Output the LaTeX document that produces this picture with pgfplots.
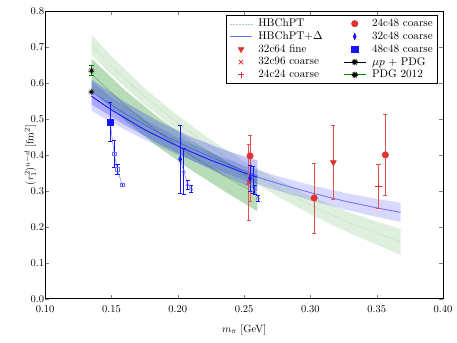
\documentclass[border=0pt]{standalone}
\usepackage{pgfplots}
\pgfplotsset{compat=1.18}
\usetikzlibrary{plotmarks}
\definecolor{myred}{RGB}{222,50,50}
\definecolor{mygreen}{RGB}{0,128,0}
\definecolor{myblue}{RGB}{20,20,255}
\definecolor{lblue}{RGB}{110,110,255}
\begin{document}
\begin{tikzpicture}
\begin{axis}[
 scale only axis, width=379pt, height=274pt,
 xmin=0.10, xmax=0.40, ymin=0, ymax=0.8,
 xtick={0.10,0.15,0.20,0.25,0.30,0.35,0.40},
 ytick={0,0.1,0.2,0.3,0.4,0.5,0.6,0.7,0.8},
 xticklabel style={yshift=-3.5pt, /pgf/number format/.cd, fixed, fixed zerofill, precision=2},
 yticklabel style={xshift=2.5pt, /pgf/number format/.cd, fixed, fixed zerofill, precision=1},
 xlabel={$m_\pi$ [GeV]}, ylabel={$(r_1^2)^{u-d}$ [fm$^2$]},
 xlabel style={yshift=-4pt}, ylabel shift=-12pt,
 tick align=inside, major tick length=3.8pt,
 legend columns=2, legend cell align=left,
 legend style={at={(1,1)}, anchor=north east, xshift=-5pt, yshift=-3.8pt, draw=black, fill=white, row sep=0pt,
   font=\fontsize{10.6}{12.5}\selectfont, nodes={inner sep=1.6pt},
   /tikz/every even column/.append style={column sep=18pt},
   /tikz/every odd column/.append style={column sep=4pt}},
 legend image code/.code={\draw[mark repeat=2,mark phase=2,#1] plot coordinates {(0cm,0cm) (0.37cm,0cm) (0.74cm,0cm)};},
 error bars/error mark options={rotate=90, mark size=2pt, line width=0.7pt},
]
% long green band (HBChPT)
\addplot[forget plot, draw=none, fill=mygreen, fill opacity=0.13] coordinates {
(0.135,0.734) (0.15,0.674) (0.175,0.585) (0.2,0.509) (0.225,0.441) (0.25,0.383) (0.275,0.331) (0.3,0.285) (0.325,0.246) (0.35,0.214) (0.368,0.194)
(0.368,0.122) (0.35,0.150) (0.325,0.190) (0.3,0.235) (0.275,0.285) (0.25,0.341) (0.225,0.401) (0.2,0.467) (0.175,0.539) (0.15,0.622) (0.135,0.678)};
\addplot[forget plot, mygreen, opacity=0.35, densely dotted, thin] coordinates {
(0.135,0.706) (0.15,0.648) (0.175,0.562) (0.2,0.488) (0.225,0.421) (0.25,0.362) (0.275,0.308) (0.3,0.260) (0.325,0.218) (0.35,0.182) (0.368,0.158)};
% long blue band (HBChPT+Delta)
\addplot[forget plot, draw=none, fill=blue, fill opacity=0.15] coordinates {
(0.135,0.603) (0.15,0.560) (0.175,0.498) (0.2,0.448) (0.225,0.406) (0.25,0.370) (0.275,0.341) (0.3,0.316) (0.325,0.295) (0.35,0.2775) (0.368,0.267)
(0.368,0.213) (0.35,0.2275) (0.325,0.249) (0.3,0.274) (0.275,0.301) (0.25,0.330) (0.225,0.364) (0.2,0.400) (0.175,0.442) (0.15,0.490) (0.135,0.523)};
% short green band
\addplot[forget plot, draw=none, fill=mygreen, fill opacity=0.28] coordinates {
(0.135,0.668) (0.16,0.580) (0.185,0.505) (0.21,0.440) (0.235,0.385) (0.26,0.337)
(0.26,0.243) (0.235,0.299) (0.21,0.358) (0.185,0.423) (0.16,0.496) (0.135,0.580)};
\addplot[forget plot, mygreen, opacity=0.5, thin] coordinates {
(0.135,0.625) (0.16,0.538) (0.185,0.464) (0.21,0.399) (0.235,0.342) (0.26,0.290)};
% short blue band
\addplot[forget plot, draw=none, fill=blue, fill opacity=0.22] coordinates {
(0.135,0.610) (0.16,0.547) (0.185,0.494) (0.21,0.450) (0.235,0.414) (0.26,0.384)
(0.26,0.300) (0.235,0.342) (0.21,0.386) (0.185,0.432) (0.16,0.483) (0.135,0.540)};
\addplot[forget plot, blue, opacity=0.5, thin] coordinates {
(0.135,0.575) (0.16,0.515) (0.185,0.463) (0.21,0.418) (0.235,0.378) (0.26,0.342)};
% long blue line
\addplot[forget plot, lblue, line width=0.8pt] coordinates {
(0.135,0.563) (0.15,0.525) (0.175,0.470) (0.2,0.424) (0.225,0.385) (0.25,0.350) (0.275,0.321) (0.3,0.295) (0.325,0.272) (0.35,0.2525) (0.368,0.240)};
\addplot[forget plot, myblue, line width=0.7pt] coordinates {
(0.135,0.563) (0.15,0.525) (0.175,0.470) (0.2,0.424) (0.225,0.385) (0.25,0.350) (0.26,0.338)};
% blue square series
\addplot[forget plot, lblue, thin] coordinates {(0.149,0.492) (0.152,0.403) (0.1545,0.360) (0.158,0.317)};
\addplot[forget plot, lblue, only marks, mark=square, mark size=1.8pt, error bars/.cd, y dir=both, y explicit, error bar style={myblue, line width=0.7pt}] coordinates {
(0.152,0.403) +- (0,0.037) (0.1545,0.360) +- (0,0.014) (0.158,0.317) +- (0,0.004)};
\addplot[forget plot, myblue, only marks, mark=square*, mark size=2.9pt, error bars/.cd, y dir=both, y explicit, error bar style={myblue, line width=0.8pt}] coordinates {
(0.149,0.492) +- (0,0.054)};
% blue diamond series at 0.20
\addplot[forget plot, lblue, thin] coordinates {(0.2018,0.388) (0.2045,0.354) (0.2075,0.317) (0.210,0.305)};
\addplot[forget plot, lblue, only marks, mark=triangle, mark size=2pt, error bars/.cd, y dir=both, y explicit, error bar style={myblue, line width=0.7pt}] coordinates {
(0.2045,0.354) +- (0,0.065) (0.2075,0.317) +- (0,0.012) (0.210,0.305) +- (0,0.009)};
\addplot[forget plot, myblue, only marks, mark=diamond*, mark size=3.2pt, mark options={xscale=0.6}, error bars/.cd, y dir=both, y explicit, error bar style={myblue, line width=0.8pt}] coordinates {
(0.2018,0.388) +- (0,0.095)};
% red points
\addplot[forget plot, myred, only marks, mark=x, mark size=3pt, mark options={line width=0.8pt}, error bars/.cd, y dir=both, y explicit, error bar style={myred!85, line width=0.8pt}] coordinates {
(0.2535,0.323) +- (0,0.105)};
\addplot[forget plot, myred, only marks, mark=*, mark size=3.1pt, error bars/.cd, y dir=both, y explicit, error bar style={myred!85, line width=0.8pt}] coordinates {
(0.2545,0.397) += (0,0.057) -= (0,0.127) (0.3028,0.280) +- (0,0.097) (0.3565,0.400) +- (0,0.113)};
\addplot[forget plot, myred, only marks, mark=triangle*, mark size=3.3pt, mark options={rotate=180}, error bars/.cd, y dir=both, y explicit, error bar style={myred!85, line width=0.8pt}] coordinates {
(0.3173,0.379) +- (0,0.102)};
\addplot[forget plot, myred, only marks, mark=+, mark size=3pt, mark options={line width=0.8pt}, error bars/.cd, y dir=both, y explicit, error bar style={myred!85, line width=0.8pt}] coordinates {
(0.3513,0.312) +- (0,0.061)};
% blue series at 0.255
\addplot[forget plot, lblue, thin] coordinates {(0.2545,0.335) (0.257,0.33) (0.258,0.303) (0.2605,0.280)};
\addplot[forget plot, lblue, only marks, mark=triangle, mark size=2pt, error bars/.cd, y dir=both, y explicit, error bar style={myblue, line width=0.7pt}] coordinates {
(0.257,0.33) +- (0,0.038) (0.258,0.303) +- (0,0.012) (0.2605,0.280) +- (0,0.008)};
\addplot[forget plot, myblue, only marks, mark=diamond*, mark size=3.2pt, mark options={xscale=0.6}, error bars/.cd, y dir=both, y explicit, error bar style={myblue, line width=0.8pt}] coordinates {
(0.2545,0.335) +- (0,0.037)};
% physical points
\addplot[forget plot, mygreen, only marks, mark=10-pointed star, mark size=3pt, mark options={fill=black, draw=black}, error bars/.cd, y dir=both, y explicit, error bar style={mygreen, line width=0.8pt}] coordinates {
(0.1349,0.634) +- (0,0.014)};
\addplot[forget plot, black, only marks, mark=10-pointed star, mark size=3pt, mark options={fill=black}] coordinates {(0.1349,0.575)};
% legend
\addlegendimage{mygreen, opacity=0.35, densely dotted}
\addlegendentry{HBChPT}
\addlegendimage{only marks, mark=*, mark size=3.1pt, myred}
\addlegendentry{24c48 coarse}
\addlegendimage{lblue, line width=0.8pt}
\addlegendentry{HBChPT+$\Delta$}
\addlegendimage{only marks, mark=diamond*, mark size=3.2pt, mark options={xscale=0.6}, myblue}
\addlegendentry{32c48 coarse}
\addlegendimage{only marks, mark=triangle*, mark size=3.3pt, mark options={rotate=180}, myred}
\addlegendentry{32c64 fine}
\addlegendimage{only marks, mark=square*, mark size=2.9pt, myblue}
\addlegendentry{48c48 coarse}
\addlegendimage{only marks, mark=x, mark size=3pt, mark options={line width=0.8pt}, myred}
\addlegendentry{32c96 coarse}
\addlegendimage{black, mark=10-pointed star, mark size=3pt, mark options={fill=black}, line width=0.8pt}
\addlegendentry{$\mu p$ + PDG}
\addlegendimage{only marks, mark=+, mark size=3pt, mark options={line width=0.8pt}, myred}
\addlegendentry{24c24 coarse}
\addlegendimage{mygreen, mark=10-pointed star, mark size=3pt, mark options={fill=black,draw=black}, line width=0.8pt}
\addlegendentry{PDG 2012}
\end{axis}
\pgfresetboundingbox
\path ([shift={(-43pt,-42pt)}]current axis.south west) rectangle ([shift={(13.3pt,10.5pt)}]current axis.north east);
\end{tikzpicture}
\end{document}
